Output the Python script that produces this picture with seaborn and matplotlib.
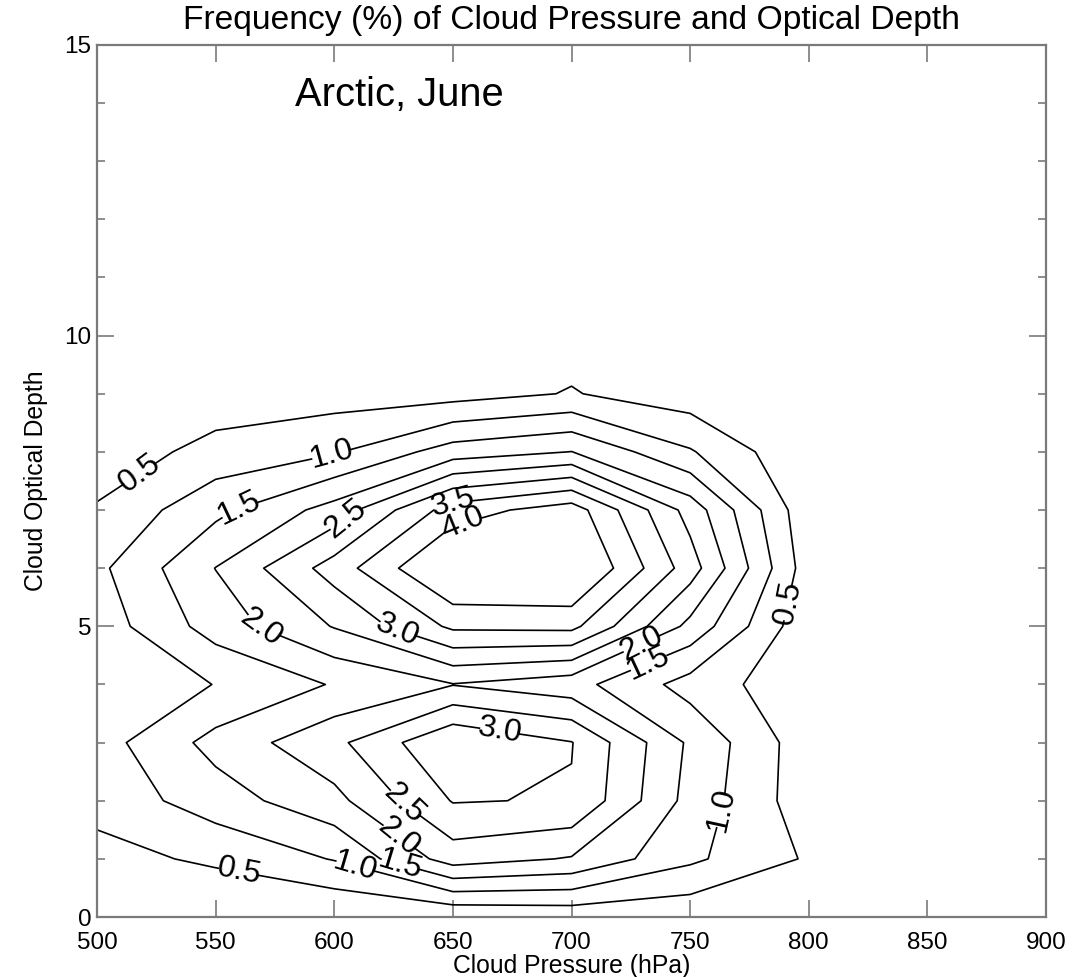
import matplotlib
matplotlib.use("Agg")
import matplotlib.pyplot as plt
import numpy as np
import seaborn as sns
from matplotlib.ticker import MultipleLocator

# cloud-top pressure bins (hPa) and optical-depth bins
pressure = [500, 550, 600, 650, 700, 750, 800]
optical_depth = [0, 1, 2, 3, 4, 5, 6, 7, 8, 9, 10]

# frequency (%) per optical-depth row, one value per pressure bin
freq_tau0 = [0.00, 0.00, 0.00, 0.04, 0.14, 0.12, 0.00]
freq_tau1 = [0.33, 0.59, 1.03, 2.24, 1.96, 1.10, 0.44]
freq_tau2 = [0.67, 1.26, 1.85, 3.03, 2.965, 1.32, 0.20]
freq_tau3 = [0.78, 1.67, 2.37, 3.47, 3.02, 1.41, 0.20]
freq_tau4 = [0.70, 1.01, 1.54, 1.98, 1.69, 0.80, 0.13]
freq_tau5 = [0.72, 1.72, 2.53, 3.60, 3.64, 1.85, 0.12]
freq_tau6 = [0.88, 2.01, 3.22, 4.66, 4.69, 2.74, 0.22]
freq_tau7 = [0.55, 1.37, 2.20, 3.75, 4.27, 2.30, 0.12]
freq_tau8 = [0.20, 0.67, 0.95, 1.74, 2.01, 1.05, 0.05]
freq_tau9 = [0.05, 0.21, 0.27, 0.30, 0.53, 0.22, 0.00]
freq_tau10 = [0.00, 0.05, 0.10, 0.10, 0.30, 0.10, 0.00]

contour_levels = [0.5, 1.0, 1.5, 2.0, 2.5, 3.0, 3.5, 4.0]

# where the inline labels sit (data coords)
label_spots = [
    (515, 7.78), (560, 0.84), (791, 5.4),        # 0.5
    (598, 8.07), (609.5, 0.95), (763, 1.84),     # 1.0
    (559.6, 7.06), (732.5, 4.37), (628.5, 0.98), # 1.5
    (570, 5.05), (729.5, 4.69), (627.8, 1.41),   # 2.0
    (603, 6.94), (630, 1.98),                    # 2.5
    (627.8, 5.05), (670, 3.27),                  # 3.0
    (649, 7.2),                                  # 3.5
    (653, 6.89),                                 # 4.0
]

sns.set_theme(style="white")
plt.rcParams["font.family"] = ["Liberation Sans", "DejaVu Sans"]
plt.rcParams["text.color"] = "black"
plt.rcParams["axes.labelcolor"] = "black"

grid = np.array([freq_tau0, freq_tau1, freq_tau2, freq_tau3, freq_tau4,
                 freq_tau5, freq_tau6, freq_tau7, freq_tau8, freq_tau9,
                 freq_tau10])

fig = plt.figure(figsize=(10.84, 9.77), dpi=100)
ax = fig.add_axes([0.0895, 0.0614, 0.8755, 0.8926])

cs = ax.contour(pressure, optical_depth, grid, levels=contour_levels,
                colors="black", linewidths=1.2)
ax.clabel(cs, manual=label_spots, fmt="%.1f", fontsize=23,
          inline=True, inline_spacing=4)

ax.set_xlim(500, 900)
ax.set_ylim(0, 15)
ax.xaxis.set_major_locator(MultipleLocator(50))
ax.yaxis.set_major_locator(MultipleLocator(5))
ax.yaxis.set_minor_locator(MultipleLocator(1))

axis_grey = "#7a7a7a"
for side in ax.spines.values():
    side.set_color(axis_grey)
    side.set_linewidth(1.6)
ax.tick_params(which="both", direction="in", bottom=True, left=True,
               top=True, right=True, color=axis_grey, width=1.2,
               labelsize=17.5, labelcolor="black")
ax.tick_params(which="major", length=12)
ax.tick_params(which="minor", length=6)
ax.tick_params(axis="x", pad=11)
ax.tick_params(axis="y", pad=4)

fig.text(0.527, 0.979, "Frequency (%) of Cloud Pressure and Optical Depth",
         fontsize=24.2, ha="center", va="center")
ax.set_xlabel("Cloud Pressure (hPa)", fontsize=17.8, labelpad=0)
ax.set_ylabel("Cloud Optical Depth", fontsize=17.8, labelpad=12)
ax.text(583.5, 14.14, "Arctic, June", fontsize=28.7, ha="left", va="center")

fig.savefig("out.png", dpi=100)
plt.close(fig)
